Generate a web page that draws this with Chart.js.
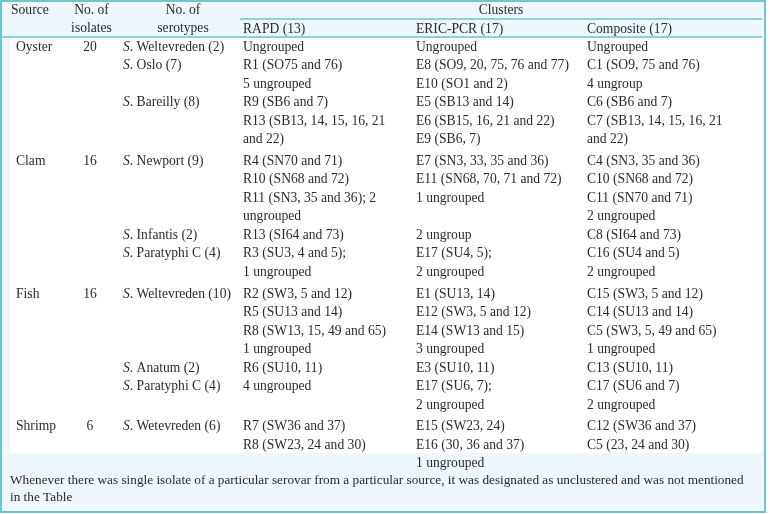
<!DOCTYPE html>
<html>
<head>
<meta charset="utf-8">
<script src="https://cdn.jsdelivr.net/npm/chart.js@4/dist/chart.umd.min.js"></script>
<style>
  body { margin: 0; background: #fff; }
  #wrap { width: 770px; height: 514px; position: relative; }
</style>
</head>
<body>
<div id="wrap"><canvas id="tableChart"></canvas></div>
<script>
// table content
let sources = ["Oyster", "Clam", "Fish", "Shrimp"];
let isolates = ["20", "16", "16", "6"];
let serotypes = [
  ["Weltevreden (2)", "Oslo (7)", "Bareilly (8)"],
  ["Newport (9)", "Infantis (2)", "Paratyphi C (4)"],
  ["Weltevreden (10)", "Anatum (2)", "Paratyphi C (4)"],
  ["Wetevreden (6)"],
];
let rapd = [
  [["Ungrouped"], ["R1 (SO75 and 76)", "5 ungrouped"], ["R9 (SB6 and 7)", "R13 (SB13, 14, 15, 16, 21", "and 22)"]],
  [["R4 (SN70 and 71)", "R10 (SN68 and 72)", "R11 (SN3, 35 and 36); 2", "ungrouped"], ["R13 (SI64 and 73)"], ["R3 (SU3, 4 and 5);", "1 ungrouped"]],
  [["R2 (SW3, 5 and 12)", "R5 (SU13 and 14)", "R8 (SW13, 15, 49 and 65)", "1 ungrouped"], ["R6 (SU10, 11)"], ["4 ungrouped"]],
  [["R7 (SW36 and 37)", "R8 (SW23, 24 and 30)"]],
];
let eric = [
  [["Ungrouped"], ["E8 (SO9, 20, 75, 76 and 77)", "E10 (SO1 and 2)"], ["E5 (SB13 and 14)", "E6 (SB15, 16, 21 and 22)", "E9 (SB6, 7)"]],
  [["E7 (SN3, 33, 35 and 36)", "E11 (SN68, 70, 71 and 72)", "1 ungrouped"], ["2 ungroup"], ["E17 (SU4, 5);", "2 ungrouped"]],
  [["E1 (SU13, 14)", "E12 (SW3, 5 and 12)", "E14 (SW13 and 15)", "3 ungrouped"], ["E3 (SU10, 11)"], ["E17 (SU6, 7);", "2 ungrouped"]],
  [["E15 (SW23, 24)", "E16 (30, 36 and 37)", "1 ungrouped"]],
];
let composite = [
  [["Ungrouped"], ["C1 (SO9, 75 and 76)", "4 ungroup"], ["C6 (SB6 and 7)", "C7 (SB13, 14, 15, 16, 21", "and 22)"]],
  [["C4 (SN3, 35 and 36)", "C10 (SN68 and 72)", "C11 (SN70 and 71)", "2 ungrouped"], ["C8 (SI64 and 73)"], ["C16 (SU4 and 5)", "2 ungrouped"]],
  [["C15 (SW3, 5 and 12)", "C14 (SU13 and 14)", "C5 (SW3, 5, 49 and 65)", "1 ungrouped"], ["C13 (SU10, 11)"], ["C17 (SU6 and 7)", "2 ungrouped"]],
  [["C12 (SW36 and 37)", "C5 (23, 24 and 30)"]],
];
let clusterTitle = "Clusters";
let clusterHeads = ["RAPD (13)", "ERIC-PCR (17)", "Composite (17)"];
let footnote = [
  "Whenever there was single isolate of a particular serovar from a particular source, it was designated as unclustered and was not mentioned",
  "in the Table",
];

// layout, in the chart's own x/y units (0..770, 0..514)
let FONT = "13.6px 'Liberation Serif', 'Times New Roman', serif";
let NOTE_FONT = "13.25px 'Liberation Serif', 'Times New Roman', serif";
let TEXT = "#2b2b2b";
let EDGE = "#6cc6d4";
let FIRST_Y = 47;
let LINE_H = 18.5;
let GROUP_GAP = 3.3;
let colX = { source: 16, isolates: 90, serotype: 123, clusters: [243, 416, 587] };

function drawTable(chart) {
  let ctx = chart.ctx;
  let xs = chart.scales.x;
  let ys = chart.scales.y;
  let px = function (v) { return xs.getPixelForValue(v); };
  let py = function (v) { return ys.getPixelForValue(v); };

  ctx.save();
  // panel
  ctx.fillStyle = "#edf7fc";
  ctx.fillRect(px(0), py(0), px(766) - px(0), py(513) - py(0));
  ctx.fillStyle = "#ffffff";
  ctx.fillRect(px(10), py(38), px(762) - px(10), py(453) - py(38));
  ctx.strokeStyle = EDGE;
  ctx.lineWidth = 2;
  ctx.strokeRect(px(1), py(1), px(765) - px(1), py(512) - py(1));
  ctx.lineWidth = 1.5;
  ctx.beginPath();
  ctx.moveTo(px(240), py(19));
  ctx.lineTo(px(762), py(19));
  ctx.moveTo(px(1), py(37));
  ctx.lineTo(px(762), py(37));
  ctx.stroke();

  ctx.fillStyle = TEXT;
  ctx.font = FONT;
  ctx.textBaseline = "middle";

  // header
  ctx.textAlign = "left";
  ctx.fillText("Source", px(11), py(10));
  ctx.textAlign = "center";
  ctx.fillText("No. of", px(91.5), py(10));
  ctx.fillText("isolates", px(91.5), py(28));
  ctx.fillText("No. of", px(183), py(10));
  ctx.fillText("serotypes", px(183), py(28));
  ctx.fillText(clusterTitle, px(501), py(10));
  ctx.textAlign = "left";
  for (let c = 0; c < clusterHeads.length; c++) {
    ctx.fillText(clusterHeads[c], px(colX.clusters[c]), py(29));
  }

  // body
  let columns = [rapd, eric, composite];
  let row = 0;
  for (let s = 0; s < sources.length; s++) {
    let rowY = function (r) { return py(FIRST_Y + r * LINE_H + s * GROUP_GAP); };
    ctx.textAlign = "left";
    ctx.fillText(sources[s], px(colX.source), rowY(row));
    ctx.textAlign = "center";
    ctx.fillText(isolates[s], px(colX.isolates), rowY(row));
    ctx.textAlign = "left";
    for (let g = 0; g < serotypes[s].length; g++) {
      // italic genus initial
      ctx.font = "italic " + FONT;
      ctx.fillText("S", px(colX.serotype), rowY(row));
      let w = ctx.measureText("S").width;
      ctx.font = FONT;
      ctx.fillText(". " + serotypes[s][g], px(colX.serotype) + w, rowY(row));
      let n = 1;
      for (let c = 0; c < columns.length; c++) {
        let lines = columns[c][s][g];
        for (let i = 0; i < lines.length; i++) {
          ctx.fillText(lines[i], px(colX.clusters[c]), rowY(row + i));
        }
        n = Math.max(n, lines.length);
      }
      row += n;
    }
  }

  // note under the table
  ctx.font = NOTE_FONT;
  for (let i = 0; i < footnote.length; i++) {
    ctx.fillText(footnote[i], px(10), py(481 + i * 17));
  }
  ctx.restore();
}

window.addEventListener("load", function () {
  let ctx = document.getElementById("tableChart").getContext("2d");
  new Chart(ctx, {
    type: "scatter",
    data: { datasets: [{ data: [] }] },
    options: {
      responsive: true,
      maintainAspectRatio: false,
      animation: false,
      layout: { padding: 0 },
      scales: {
        x: { type: "linear", min: 0, max: 770, display: false },
        y: { type: "linear", min: 0, max: 514, reverse: true, display: false },
      },
      plugins: { legend: { display: false }, tooltip: { enabled: false } },
    },
    plugins: [{ id: "tableDraw", beforeDatasetsDraw: drawTable }],
  });
});
</script>
</body>
</html>
